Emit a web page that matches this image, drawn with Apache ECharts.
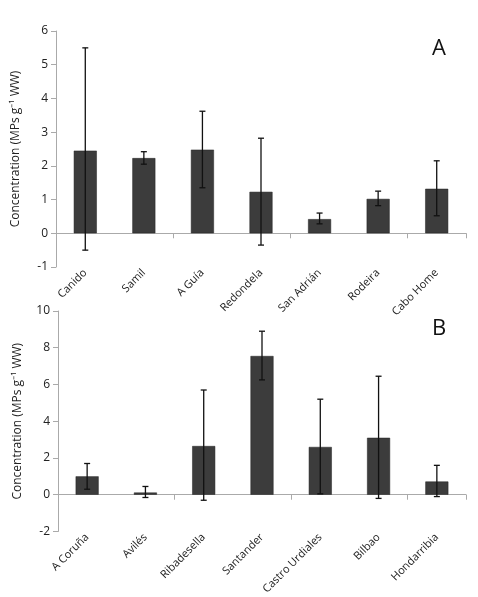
<!DOCTYPE html><html><head><meta charset="utf-8"><script src="https://cdn.jsdelivr.net/npm/echarts@6/dist/echarts.min.js"></script>
<style>html,body{margin:0;background:#fff}#c{width:478px;height:597px}</style></head><body><div id="c"></div><script>
const catsA=['Canido','Samil','A Guía','Redondela','San Adrián','Rodeira','Cabo Home'];
const valsA=[2.45,2.23,2.48,1.23,0.42,1.02,1.32];
const hiA=[5.5,2.42,3.62,2.82,0.6,1.25,2.15];
const loA=[-0.5,2.05,1.35,-0.35,0.28,0.82,0.52];
const catsB=['A Coruña','Avilés','Ribadesella','Santander','Castro Urdiales','Bilbao','Hondarribia'];
const valsB=[1.0,0.12,2.65,7.55,2.6,3.1,0.72];
const hiB=[1.7,0.45,5.7,8.9,5.2,6.45,1.6];
const loB=[0.3,-0.15,-0.3,6.25,0.05,-0.2,-0.1];
const F='"Open Sans", sans-serif';
const ch=echarts.init(document.getElementById('c'));
function xAxes(cats,gi){return [
 {type:'category',gridIndex:gi,data:cats,axisLine:{onZero:true,lineStyle:{color:'#aaa'}},axisTick:{show:true,alignWithLabel:false,lineStyle:{color:'#aaa'}},axisLabel:{show:false}},
 {type:'category',gridIndex:gi,data:cats,position:'bottom',axisLine:{show:false,onZero:false},axisTick:{show:false},axisLabel:{rotate:45,color:'#222',fontFamily:F,fontSize:11,margin:4,interval:0}}];}
function yAxis(gi,min,max,iv){return {type:'value',gridIndex:gi,min,max,interval:iv,name:'Concentration (MPs g⁻¹ WW)',nameLocation:'middle',nameGap:34,nameTextStyle:{color:'#222',fontFamily:F,fontSize:12},axisLine:{show:true,lineStyle:{color:'#aaa'}},axisTick:{show:true,lineStyle:{color:'#aaa'}},axisLabel:{color:'#222',fontFamily:F,fontSize:12},splitLine:{show:false}};}
function err(hi,lo,xi,yi){return {type:'custom',xAxisIndex:xi,yAxisIndex:yi,z:5,data:hi.map((h,i)=>[i,h,lo[i]]),renderItem:(p,api)=>{const a=api.coord([api.value(0),api.value(1)]),b=api.coord([api.value(0),api.value(2)]);const w=3;const s={stroke:'#111',lineWidth:1.3};return {type:'group',children:[{type:'line',shape:{x1:a[0],y1:a[1],x2:b[0],y2:b[1]},style:s},{type:'line',shape:{x1:a[0]-w,y1:a[1],x2:a[0]+w,y2:a[1]},style:s},{type:'line',shape:{x1:b[0]-w,y1:b[1],x2:b[0]+w,y2:b[1]},style:s}]};}};}
ch.setOption({animation:false,
grid:[{left:56,right:12,top:31,height:236},{left:58,right:12,top:311,height:227}],
xAxis:[...xAxes(catsA,0),...xAxes(catsB,1)],
yAxis:[yAxis(0,-1,6,1),yAxis(1,-2,10,2)],
graphic:[{type:'text',left:432,top:38,style:{text:'A',fontSize:22,fontFamily:F,fill:'#111'}},{type:'text',left:432,top:318,style:{text:'B',fontSize:22,fontFamily:F,fill:'#111'}}],
series:[
{type:'bar',xAxisIndex:0,yAxisIndex:0,data:valsA,barWidth:23,itemStyle:{color:'#3c3c3c',borderColor:'#222',borderWidth:0.5}},
err(hiA,loA,0,0),
{type:'bar',xAxisIndex:2,yAxisIndex:1,data:valsB,barWidth:23,itemStyle:{color:'#3c3c3c',borderColor:'#222',borderWidth:0.5}},
err(hiB,loB,2,1)]});
</script></body></html>
